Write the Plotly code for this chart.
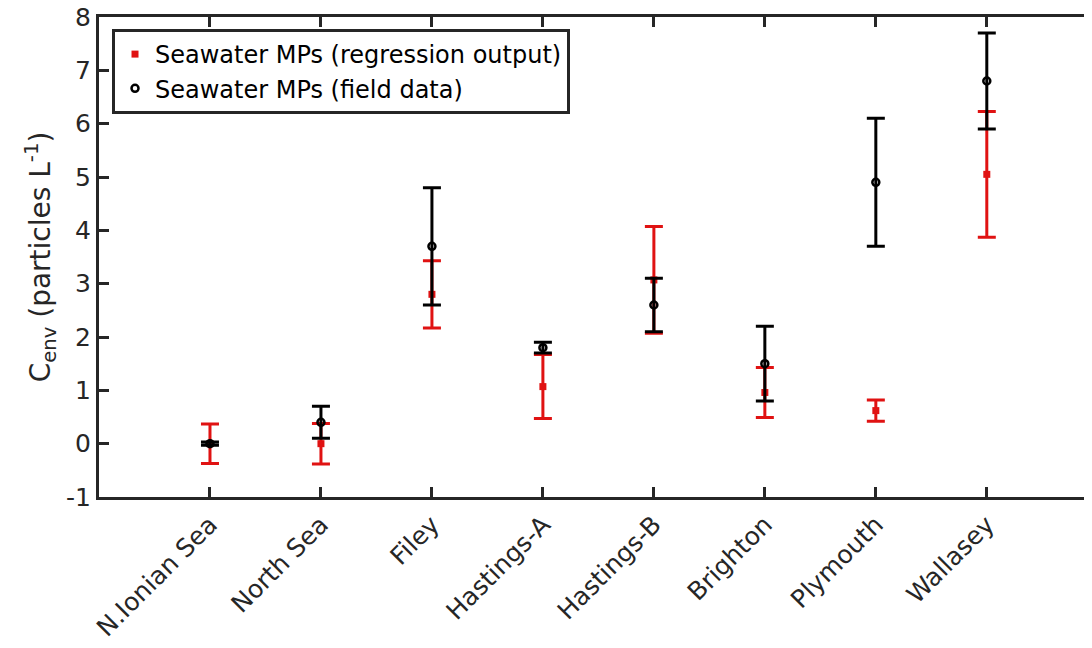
import plotly.graph_objects as go

sites = ["N.Ionian Sea", "North Sea", "Filey", "Hastings-A", "Hastings-B",
         "Brighton", "Plymouth", "Wallasey"]

# Seawater MPs (regression output)
reg_mean = [0.0, 0.0, 2.8, 1.07, 3.07, 0.96, 0.62, 5.05]
reg_err = [0.37, 0.38, 0.63, 0.6, 1.0, 0.47, 0.2, 1.18]

# Seawater MPs (field data)
field_mean = [0.0, 0.4, 3.7, 1.8, 2.6, 1.5, 4.9, 6.8]
field_err = [0.03, 0.3, 1.1, 0.1, 0.5, 0.7, 1.2, 0.9]

y_tick_vals = [-1, 0, 1, 2, 3, 4, 5, 6, 7, 8]
y_tick_text = ["-1", "0", "1", "2", "3", "4", "5", "6", "7", "8"]

RED = "#e01212"
AX = "#262626"
FONT = "DejaVu Sans"

fig = go.Figure()
fig.add_trace(go.Scatter(
    x=sites, y=reg_mean, mode="markers",
    name="Seawater MPs (regression output)",
    marker=dict(symbol="square", size=7, color=RED),
    error_y=dict(type="data", array=reg_err, color=RED, thickness=3, width=9),
))
fig.add_trace(go.Scatter(
    x=sites, y=field_mean, mode="markers",
    name="Seawater MPs (field data)",
    marker=dict(symbol="circle-open", size=7, color="black", line=dict(width=2.5)),
    error_y=dict(type="data", array=field_err, color="black", thickness=3, width=9),
))

# page body adds an 8px offset; margins are compensated for it
fig.update_layout(
    width=1092, height=640,
    margin=dict(l=91, r=0, t=9, b=151),
    plot_bgcolor="white", paper_bgcolor="white",
    font=dict(family=FONT, size=24, color=AX),
    showlegend=True,
    legend=dict(
        x=0.013, y=0.975, xanchor="left", yanchor="top",
        bgcolor="white", bordercolor=AX, borderwidth=3,
        font=dict(family=FONT, size=24, color="black"),
        tracegroupgap=0, itemsizing="trace",
    ),
)
fig.update_xaxes(
    type="category", range=[-1, 8.02], automargin=False,
    showline=True, linewidth=3, linecolor=AX, mirror="ticks",
    ticks="inside", ticklen=10, tickwidth=3, tickcolor=AX,
    tickangle=-45, showgrid=False, zeroline=False,
    tickfont=dict(family=FONT, size=25, color=AX),
)
fig.update_yaxes(
    range=[-1, 8], tickvals=y_tick_vals, ticktext=y_tick_text,
    automargin=False, ticklabeloverflow="allow",
    showline=True, linewidth=3, linecolor=AX, mirror="ticks",
    ticks="inside", ticklen=10, tickwidth=3, tickcolor=AX,
    showgrid=False, zeroline=False,
    tickfont=dict(family=FONT, size=25, color=AX),
    title=dict(text="C<sub>env</sub> (particles L<sup>-1</sup>)",
               font=dict(family=FONT, size=28, color=AX), standoff=8),
)

fig.write_html("out.html")
